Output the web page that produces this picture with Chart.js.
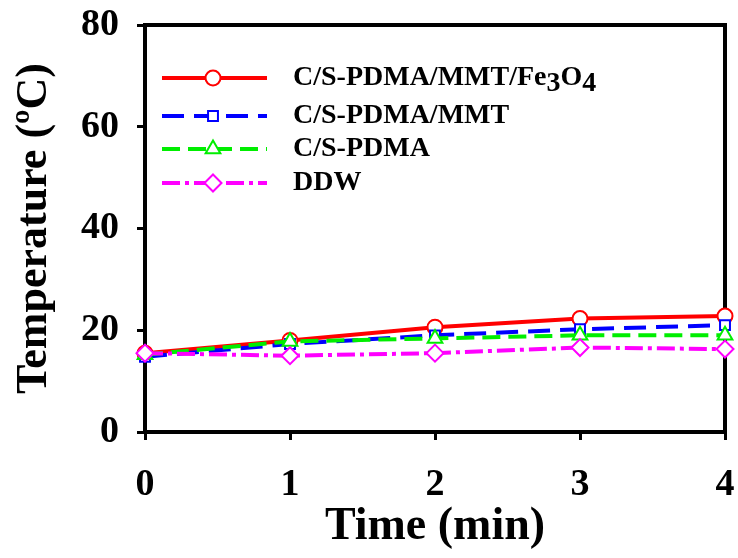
<!DOCTYPE html>
<html>
<head>
<meta charset="utf-8">
<title>Temperature vs time</title>
<script src="https://cdn.jsdelivr.net/npm/chart.js@4.4.1/dist/chart.umd.min.js"></script>
<style>
  html, body { margin: 0; padding: 0; background: #fff; }
  #wrap { width: 738px; height: 558px; }
</style>
</head>
<body>
<div id="wrap"><canvas id="tempChart" width="738" height="558"></canvas></div>
<script>
// ---- Data ----
const times = [0, 1, 2, 3, 4];
const yTicks = [0, 20, 40, 60, 80];
const xTicks = [0, 1, 2, 3, 4];

const seriesNames = ['C/S-PDMA/MMT/Fe3O4', 'C/S-PDMA/MMT', 'C/S-PDMA', 'DDW'];
const tempFe3O4 = [15.5, 18.0, 20.6, 22.3, 22.8];
const tempMMT = [14.8, 17.3, 19.0, 20.2, 21.0];
const tempPDMA = [15.2, 17.8, 18.4, 19.0, 19.0];
const tempDDW = [15.5, 15.0, 15.5, 16.6, 16.3];

const SERIF = "'Liberation Serif', 'Times New Roman', serif";

function toPoints(ys) {
    return times.map((t, i) => ({ x: t, y: ys[i] }));
}

// ---- Plot frame (top + right edges) ----
const framePlugin = {
    id: 'frame',
    beforeDatasetsDraw(chart) {
        const { ctx, chartArea: a } = chart;
        ctx.save();
        ctx.strokeStyle = '#000';
        ctx.lineWidth = 4;
        ctx.beginPath();
        ctx.moveTo(a.left - 2, a.top);
        ctx.lineTo(a.right, a.top);
        ctx.lineTo(a.right, a.bottom + 2);
        ctx.stroke();
        ctx.restore();
    }
};

// ---- Legend drawn inside the plot, with subscripted chemical formula ----
function drawFormula(ctx, text, x, y, size) {
    // digits right after a letter are written as subscripts (Fe3O4)
    const parts = text.split(/(?<=[A-Za-z])(\d)/);
    let cx = x;
    parts.forEach((p, i) => {
        if (!p) return;
        const sub = i % 2 === 1;
        ctx.font = `bold ${size}px ${SERIF}`;
        ctx.fillText(p, cx, sub ? y + size * 0.22 : y);
        cx += ctx.measureText(p).width;
    });
}

const legendPlugin = {
    id: 'insideLegend',
    afterDraw(chart) {
        const { ctx } = chart;
        const rows = [78, 116, 149, 183];
        const x0 = 162, x1 = 267, xm = 213, xt = 293;
        ctx.save();
        chart.data.datasets.forEach((ds, i) => {
            const y = rows[i];
            ctx.strokeStyle = ds.borderColor;
            ctx.lineWidth = ds.borderWidth;
            ctx.setLineDash(ds.borderDash || []);
            ctx.beginPath();
            ctx.moveTo(x0, y);
            ctx.lineTo(x1, y);
            ctx.stroke();
            ctx.setLineDash([]);
            ctx.fillStyle = '#fff';
            ctx.lineWidth = ds.pointBorderWidth;
            Chart.helpers.drawPoint(ctx, {
                pointStyle: ds.pointStyle,
                radius: ds.pointRadius,
                rotation: 0,
                borderWidth: ds.pointBorderWidth
            }, xm, y);
            ctx.fillStyle = '#000';
            ctx.textBaseline = 'middle';
            ctx.textAlign = 'left';
            drawFormula(ctx, ds.label, xt, y, 28);
        });
        ctx.restore();
    }
};

// ---- Chart ----
function lineSet(label, ys, color, style, radius, dash, order) {
    return {
        label: label,
        data: toPoints(ys),
        borderColor: color,
        backgroundColor: '#fff',
        borderWidth: 4,
        borderDash: dash,
        pointStyle: style,
        pointRadius: radius,
        pointBorderWidth: 2,
        pointBorderColor: color,
        pointBackgroundColor: '#fff',
        tension: 0,
        clip: false,
        order: order
    };
}

// keep the plot box fixed; tick-label overflow must not shrink it
function noOverflow(s) {
    s.paddingTop = 0;
    s.paddingBottom = 0;
    s.paddingLeft = 0;
    s.paddingRight = 0;
}

new Chart(document.getElementById('tempChart'), {
    type: 'line',
    data: {
        datasets: [
            lineSet(seriesNames[0], tempFe3O4, '#ff0000', 'circle', 7.5, [], 4),
            lineSet(seriesNames[1], tempMMT, '#0000ff', 'rect', 7, [22, 10], 3),
            lineSet(seriesNames[2], tempPDMA, '#00ee00', 'triangle', 8.5, [18, 8], 2),
            lineSet(seriesNames[3], tempDDW, '#ff00ff', 'rectRot', 8.5, [18, 5, 4, 5], 1)
        ]
    },
    options: {
        responsive: false,
        animation: false,
        layout: { padding: { left: 0, right: 13, top: 25, bottom: 0 } },
        plugins: {
            legend: { display: false },
            tooltip: { enabled: false }
        },
        scales: {
            x: {
                type: 'linear',
                min: 0,
                max: 4,
                afterFit: s => { s.height = 126; noOverflow(s); },
                afterBuildTicks: s => { s.ticks = xTicks.map(v => ({ value: v })); },
                ticks: {
                    color: '#000',
                    padding: 22,
                    maxRotation: 0,
                    font: { family: SERIF, size: 38, weight: 'bold' }
                },
                grid: { drawOnChartArea: false, tickLength: 8, tickWidth: 3, color: '#000' },
                border: { color: '#000', width: 4 },
                title: {
                    display: true,
                    text: 'Time (min)',
                    color: '#000',
                    font: { family: SERIF, size: 46, weight: 'bold', lineHeight: 1 },
                    padding: { top: 0, bottom: 8 }
                }
            },
            y: {
                min: 0,
                max: 80,
                afterFit: s => { s.width = 145; noOverflow(s); },
                afterBuildTicks: s => { s.ticks = yTicks.map(v => ({ value: v })); },
                ticks: {
                    color: '#000',
                    padding: 18,
                    font: { family: SERIF, size: 38, weight: 'bold' }
                },
                grid: { drawOnChartArea: false, tickLength: 8, tickWidth: 3, color: '#000' },
                border: { color: '#000', width: 4 },
                title: {
                    display: true,
                    text: 'Temperature (ºC)',
                    color: '#000',
                    font: { family: SERIF, size: 44, weight: 'bold', lineHeight: 1 },
                    padding: { top: 13, bottom: 0 }
                }
            }
        }
    },
    plugins: [framePlugin, legendPlugin]
});
</script>
</body>
</html>
